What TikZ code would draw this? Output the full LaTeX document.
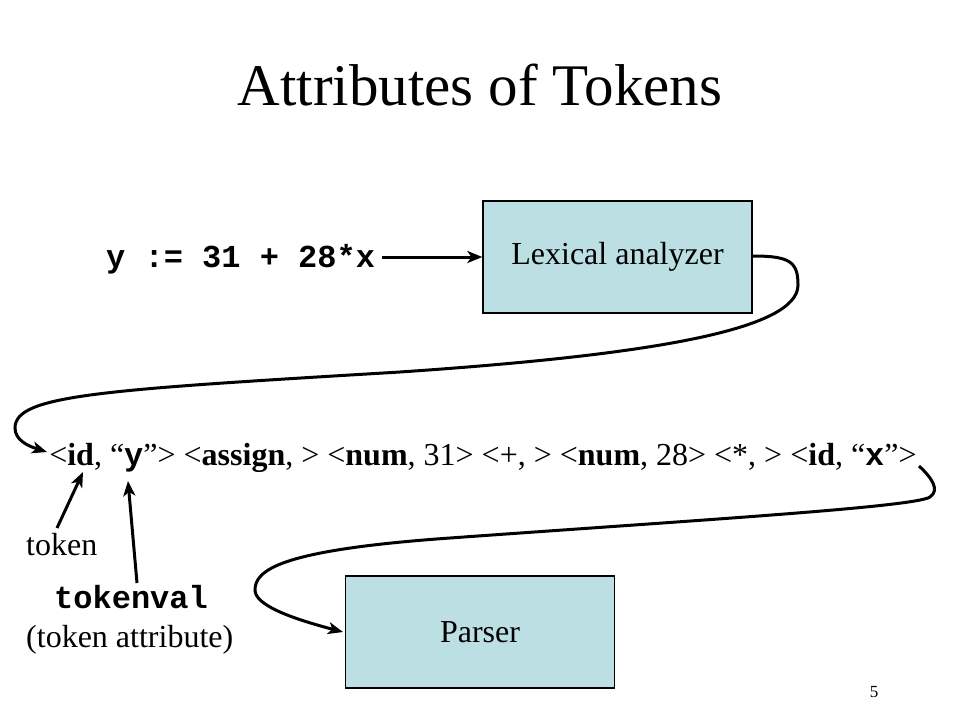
\documentclass[tikz,border=0pt]{standalone}
\usepackage{fontspec}
\setmainfont{Liberation Serif}
\setmonofont{Liberation Mono}
\usetikzlibrary{arrows.meta}
\definecolor{boxblue}{RGB}{187,223,227}
\tikzset{
  procbox/.style={draw=black, line width=1.3pt, fill=boxblue, minimum width=269pt, minimum height=112pt, inner sep=0pt, font=\fontsize{32}{36}\selectfont},
  conn/.style={line width=3pt, -{Stealth[length=15pt,width=12pt,inset=4pt]}},
  label/.style={inner sep=0pt, font=\fontsize{32}{36}\selectfont},
}
\begin{document}
\begin{tikzpicture}[x=1pt,y=-1pt]
\useasboundingbox (0,0) rectangle (960,720);
\node[inner sep=0pt, anchor=base, font=\fontsize{59}{64}\selectfont] (title) at (480,105) {Attributes of Tokens};
\node[label, anchor=base west, font=\fontsize{32}{36}\selectfont\ttfamily\bfseries] (code) at (106,267) {y := 31 + 28*x};
\node[procbox] (lex) at (617.5,257) {Lexical analyzer};
\node[procbox] (parser) at (480,632) {Parser};
\node[label, anchor=base] (tokens) at (483,465) {<\textbf{id}, “\texttt{\textbf{y}}”> <\textbf{assign}, > <\textbf{num}, 31> <+, > <\textbf{num}, 28> <*, > <\textbf{id}, “\texttt{\textbf{x}}”>};
\node[label, anchor=base west] (tok) at (26,555) {token};
\node[label, anchor=base west, font=\fontsize{32}{36}\selectfont\ttfamily\bfseries] (tokval) at (54,608) {tokenval};
\node[label, anchor=base west] (tokattr) at (26,647) {(token attribute)};
\node[inner sep=0pt, anchor=base, font=\fontsize{17}{20}\selectfont] (pg) at (874,697) {5};
\coordinate (c1s) at (753,256);
\coordinate (c1e) at (47,452);
\coordinate (c2s) at (919,466);
\coordinate (c2e) at (343,632);
\coordinate (tokA) at (57,528);
\coordinate (tokB) at (83,472);
\coordinate (valA) at (137,583);
\coordinate (valB) at (128,481);
\coordinate (codeE) at (382,257);
\draw[conn] (codeE) -- (lex.west);
\draw[conn] (c1s) .. controls (790,256) and (798,262) .. (798,285)
  .. controls (798,330) and (650,355) .. (400,372)
  .. controls (100,390) and (15,395) .. (15,428)
  .. controls (15,440) and (28,446) .. (c1e);
\draw[conn] (c2s) .. controls (932,478) and (940,490) .. (930,497)
  .. controls (915,507) and (700,520) .. (450,538)
  .. controls (280,550) and (255,570) .. (255,590)
  .. controls (255,605) and (290,618) .. (c2e);
\draw[conn] (tokA) -- (tokB);
\draw[conn] (valA) -- (valB);
\end{tikzpicture}
\end{document}
